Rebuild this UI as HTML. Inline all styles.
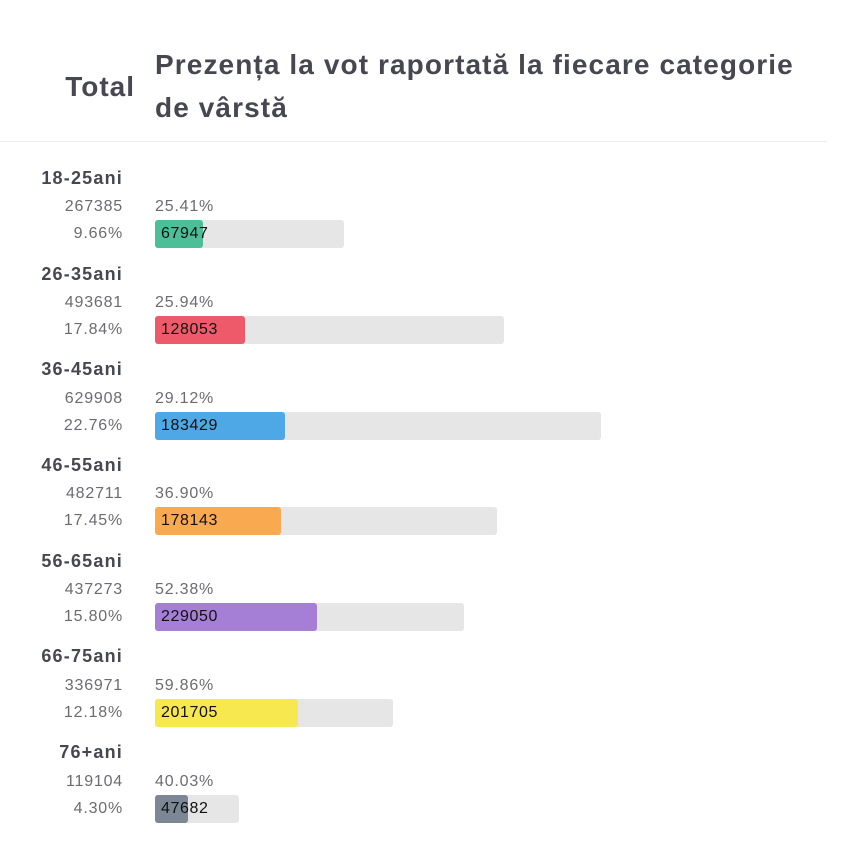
<!DOCTYPE html>
<html><head><meta charset="utf-8"><style>
body{margin:0;width:851px;height:857px;background:#fff;font-family:"Liberation Sans","DejaVu Sans",sans-serif;position:relative;overflow:hidden}
.a{position:absolute;white-space:nowrap}
.h{font-weight:bold;color:#474751;font-size:28px}
.lab{right:728px;font-weight:bold;color:#474751;font-size:18px;line-height:20px;letter-spacing:1.2px}
.n{right:728px;color:#6b6b72;font-size:16px;line-height:20px;letter-spacing:0.8px}
.p{left:155px;color:#6b6b72;font-size:16px;line-height:20px;letter-spacing:0.8px}
.t{left:155px;height:28px;background:#e6e6e6;border-radius:3px}
.f{position:absolute;left:0;top:0;height:28px;border-radius:3px}
.v{position:absolute;left:6px;top:0;line-height:28px;font-size:16px;color:#111;letter-spacing:0.6px}
</style></head><body>
<div class="a h" style="right:716px;top:70px;line-height:34px;letter-spacing:1px">Total</div>
<div class="a h" style="left:155px;top:43px;line-height:43px;letter-spacing:1.1px">Prezența la vot raportată la fiecare categorie<br>de vârstă</div>
<div class="a" style="left:0;top:141px;width:827px;height:1px;background:#eaeaea"></div>

<div class="a lab" style="top:168px">18-25ani</div>
<div class="a n" style="top:197px">267385</div><div class="a p" style="top:197px">25.41%</div>
<div class="a n" style="top:224px">9.66%</div>
<div class="a t" style="top:220px;width:189px"><div class="f" style="width:48px;background:#4cbf99"></div><span class="v">67947</span></div>

<div class="a lab" style="top:264px">26-35ani</div>
<div class="a n" style="top:293px">493681</div><div class="a p" style="top:293px">25.94%</div>
<div class="a n" style="top:320px">17.84%</div>
<div class="a t" style="top:316px;width:349px"><div class="f" style="width:90px;background:#ee5a69"></div><span class="v">128053</span></div>

<div class="a lab" style="top:359px">36-45ani</div>
<div class="a n" style="top:389px">629908</div><div class="a p" style="top:389px">29.12%</div>
<div class="a n" style="top:416px">22.76%</div>
<div class="a t" style="top:412px;width:446px"><div class="f" style="width:130px;background:#4ea8e6"></div><span class="v">183429</span></div>

<div class="a lab" style="top:455px">46-55ani</div>
<div class="a n" style="top:484px">482711</div><div class="a p" style="top:484px">36.90%</div>
<div class="a n" style="top:511px">17.45%</div>
<div class="a t" style="top:507px;width:342px"><div class="f" style="width:126px;background:#f9a94f"></div><span class="v">178143</span></div>

<div class="a lab" style="top:551px">56-65ani</div>
<div class="a n" style="top:580px">437273</div><div class="a p" style="top:580px">52.38%</div>
<div class="a n" style="top:607px">15.80%</div>
<div class="a t" style="top:603px;width:309px"><div class="f" style="width:162px;background:#a57fd6"></div><span class="v">229050</span></div>

<div class="a lab" style="top:646px">66-75ani</div>
<div class="a n" style="top:676px">336971</div><div class="a p" style="top:676px">59.86%</div>
<div class="a n" style="top:703px">12.18%</div>
<div class="a t" style="top:699px;width:238px"><div class="f" style="width:143px;background:#f8e84f"></div><span class="v">201705</span></div>

<div class="a lab" style="top:742px">76+ani</div>
<div class="a n" style="top:772px">119104</div><div class="a p" style="top:772px">40.03%</div>
<div class="a n" style="top:799px">4.30%</div>
<div class="a t" style="top:795px;width:84px"><div class="f" style="width:33px;background:#7b8794"></div><span class="v">47682</span></div>
</body></html>
